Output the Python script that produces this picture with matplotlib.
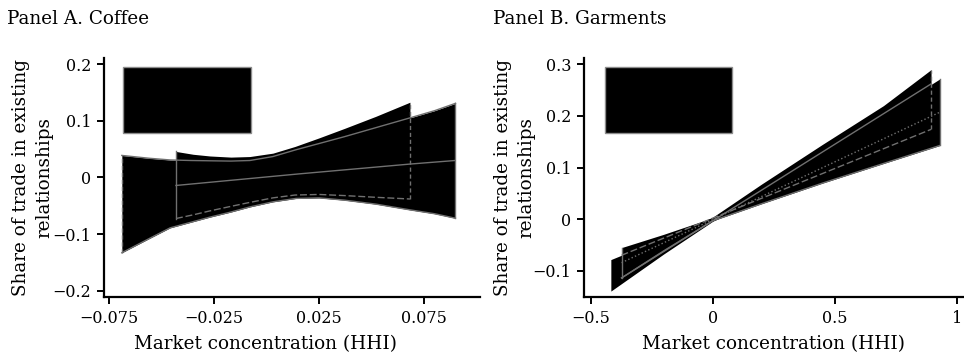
import matplotlib
matplotlib.use("Agg")
import matplotlib.pyplot as plt
from matplotlib.patches import Rectangle

plt.rcParams['font.family'] = ['DejaVu Serif']

# ---------------- Panel A: Coffee ----------------
a_xticks = [-0.075, -0.025, 0.025, 0.075]
a_xticklabels = ["\u22120.075", "\u22120.025", "0.025", "0.075"]
a_yticks = [-0.2, -0.1, 0, 0.1, 0.2]
a_yticklabels = ["\u22120.2", "\u22120.1", "0", "0.1", "0.2"]

# wide band
a_wide_x = [-0.069, -0.056, -0.046, -0.036, -0.027, -0.017, -0.008, 0.003, 0.014, 0.025, 0.037, 0.052, 0.068, 0.080, 0.090]
a_wide_hi = [0.039, 0.034, 0.031, 0.030, 0.0295, 0.029, 0.030, 0.037, 0.049, 0.060, 0.072, 0.088, 0.105, 0.118, 0.131]
a_wide_lo = [-0.133, -0.108, -0.089, -0.079, -0.070, -0.061, -0.052, -0.043, -0.037, -0.036, -0.040, -0.047, -0.057, -0.064, -0.072]
# narrow band
a_nar_x = [-0.0432, -0.035, -0.027, -0.017, -0.008, 0.003, 0.0135, 0.025, 0.0373, 0.052, 0.0683]
a_nar_hi = [0.046, 0.041, 0.038, 0.036, 0.037, 0.043, 0.0548, 0.070, 0.087, 0.108, 0.133]
a_nar_lo = [-0.0725, -0.066, -0.059, -0.051, -0.044, -0.036, -0.031, -0.030, -0.032, -0.035, -0.038]
# fitted line
a_fit_x = [-0.0432, 0.0159, 0.0683, 0.0898]
a_fit_y = [-0.0141, 0.0065, 0.0237, 0.030]

# ---------------- Panel B: Garments ----------------
b_xticks = [-0.5, 0, 0.5, 1]
b_xticklabels = ["\u22120.5", "0", "0.5", "1"]
b_yticks = [-0.1, 0, 0.1, 0.2, 0.3]
b_yticklabels = ["\u22120.1", "0", "0.1", "0.2", "0.3"]

b_one_x = [-0.417, -0.2, 0.0, 0.2, 0.45, 0.7, 0.895]
b_one_hi = [-0.078, -0.036, 0.004, 0.068, 0.145, 0.220, 0.2896]
b_one_lo = [-0.139, -0.067, -0.004, 0.043, 0.088, 0.133, 0.1754]

b_two_x = [-0.373, -0.2, 0.0, 0.2, 0.45, 0.7, 0.932]
b_two_hi = [-0.0548, -0.029, 0.003, 0.059, 0.131, 0.203, 0.272]
b_two_lo = [-0.1135, -0.061, -0.003, 0.030, 0.070, 0.108, 0.143]

b_solid_x = [-0.373, 0.895]
b_solid_y = [-0.1135, 0.262]
b_dash_x = [-0.373, 0.895]
b_dash_y = [-0.0696, 0.174]
b_fit_x = [-0.373, 0.932]
b_fit_y = [-0.084, 0.2075]

GRAY = '#707070'
LW = 1.0
LABEL_FS = 13.2
TICK_FS = 11.5

fig = plt.figure(figsize=(9.64, 3.58), dpi=100)
axA = fig.add_axes([104/964, (358-297.3)/358, 376/964, 239/358])
axB = fig.add_axes([584/964, (358-297.3)/358, 380/964, 239/358])

def style(ax, xlim, ylim, xt, xtl, yt, ytl):
    ax.set_xlim(*xlim)
    ax.set_ylim(*ylim)
    ax.set_xticks(xt)
    ax.set_xticklabels(xtl)
    ax.set_yticks(yt)
    ax.set_yticklabels(ytl)
    for s in ['top', 'right']:
        ax.spines[s].set_visible(False)
    for s in ['left', 'bottom']:
        ax.spines[s].set_linewidth(1.6)
    ax.tick_params(direction='out', length=5, width=1.4, labelsize=TICK_FS, pad=4)
    ax.set_xlabel("Market concentration (HHI)", fontsize=LABEL_FS)
    ax.set_ylabel("Share of trade in existing\nrelationships", fontsize=LABEL_FS,
                  linespacing=1.35, ha='center')

# Panel A drawing
axA.fill_between(a_wide_x, a_wide_lo, a_wide_hi, color='black', lw=0, zorder=1)
axA.fill_between(a_nar_x, a_nar_lo, a_nar_hi, color='black', lw=0, zorder=2)
axA.plot(a_wide_x, a_wide_hi, color=GRAY, lw=LW, zorder=3)
axA.plot(a_wide_x, a_wide_lo, color=GRAY, lw=LW, zorder=3)
axA.plot([a_wide_x[-1]] * 2, [a_wide_lo[-1], a_wide_hi[-1]], color=GRAY, lw=LW, zorder=3)
axA.plot([a_wide_x[0]] * 2, [a_wide_lo[0], a_wide_hi[0]], color=GRAY, lw=LW, ls=(0, (3, 2)), zorder=3)
axA.plot([a_nar_x[0]] * 2, [a_nar_lo[0], a_nar_hi[0]], color=GRAY, lw=LW, zorder=3)
axA.plot([a_nar_x[-1]] * 2, [a_nar_lo[-1], a_nar_hi[-1]], color=GRAY, lw=LW, ls=(0, (3, 2)), zorder=3)
axA.plot(a_nar_x, a_nar_lo, color=GRAY, lw=LW, ls=(0, (5, 2)), zorder=3)
axA.plot(a_fit_x, a_fit_y, color=GRAY, lw=LW, zorder=3)

# Panel B drawing
axB.fill_between(b_one_x, b_one_lo, b_one_hi, color='black', lw=0, zorder=1)
axB.fill_between(b_two_x, b_two_lo, b_two_hi, color='black', lw=0, zorder=2)
axB.plot([b_one_x[-1]] * 2, [b_one_lo[-1], b_one_hi[-1]], color=GRAY, lw=LW, ls=(0, (3, 2)), zorder=3)
axB.plot([b_two_x[0]] * 2, [b_two_lo[0], b_two_hi[0]], color=GRAY, lw=LW, zorder=3)
axB.plot([b_two_x[-1]] * 2, [b_two_lo[-1], b_two_hi[-1]], color=GRAY, lw=LW, zorder=3)
axB.plot(b_two_x, b_two_lo, color=GRAY, lw=LW, zorder=3)
axB.plot(b_solid_x, b_solid_y, color=GRAY, lw=LW, zorder=3)
axB.plot(b_dash_x, b_dash_y, color=GRAY, lw=LW, ls=(0, (5, 2)), zorder=3)
axB.plot(b_fit_x, b_fit_y, color=GRAY, lw=LW, ls=':', zorder=3)

style(axA, (-0.0775, 0.1017), (-0.2117, 0.2106), a_xticks, a_xticklabels, a_yticks, a_yticklabels)
style(axB, (-0.527, 1.03), (-0.151, 0.3116), b_xticks, b_xticklabels, b_yticks, b_yticklabels)

axA.xaxis.set_label_coords(0.43, -0.16)
axA.yaxis.set_label_coords(-0.135, 0.5)
axB.xaxis.set_label_coords(0.498, -0.16)
axB.yaxis.set_label_coords(-0.128, 0.5)

# legend boxes (contents rendered black)
axA.add_patch(Rectangle((0.0513, 0.689), 0.34, 0.276, transform=axA.transAxes,
                        facecolor='black', edgecolor='#8c8c8c', lw=1.0, zorder=4))
axB.add_patch(Rectangle((0.0553, 0.689), 0.334, 0.276, transform=axB.transAxes,
                        facecolor='black', edgecolor='#8c8c8c', lw=1.0, zorder=4))

fig.text(7/964, (358-24)/358, "Panel A. Coffee", fontsize=LABEL_FS, ha='left', va='baseline')
fig.text(493/964, (358-24)/358, "Panel B. Garments", fontsize=LABEL_FS, ha='left', va='baseline')

fig.savefig("out.png", dpi=100)
